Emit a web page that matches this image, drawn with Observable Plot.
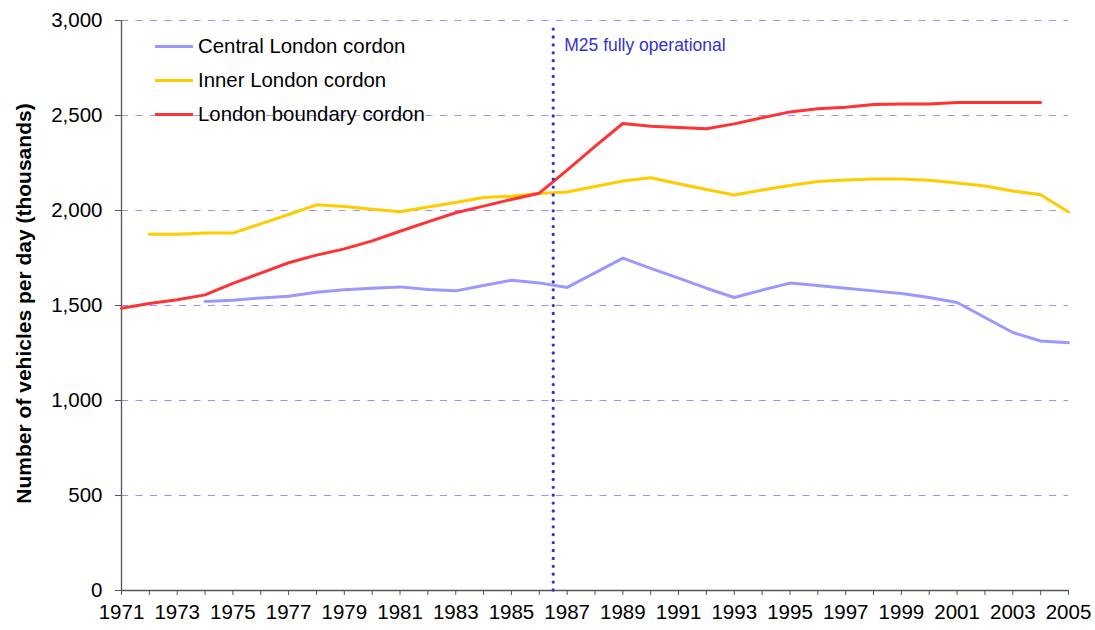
<!DOCTYPE html>
<html>
<head>
<meta charset="utf-8">
<script src="https://cdn.jsdelivr.net/npm/d3@7"></script>
<script src="https://cdn.jsdelivr.net/npm/@observablehq/plot@0.6"></script>
<style>
  html, body { margin: 0; padding: 0; background: #fff; }
  #wrap { position: relative; width: 1095px; height: 630px; font-family: "Liberation Sans", Arial, sans-serif; }
  #legend { position: absolute; left: 155px; top: 30px; }
  .row { display: flex; align-items: center; height: 33.8px; font-size: 20.4px; color: #000; }
  .sw { width: 38px; height: 3px; margin-right: 5px; }
</style>
</head>
<body>
<div id="wrap"></div>
<script>
const years = [1971,1972,1973,1974,1975,1976,1977,1978,1979,1980,1981,1982,1983,1984,1985,1986,1987,1988,1989,1990,1991,1992,1993,1994,1995,1996,1997,1998,1999,2000,2001,2002,2003,2004,2005];
const central = [null,null,null,1521,1528,1540,1549,1570,1583,1591,1598,1584,1577,1605,1633,1619,1595,1672,1749,1695,1644,1591,1542,1581,1618,1605,1591,1577,1563,1542,1516,1437,1358,1313,1304];
const inner = [null,1875,1875,1881,1881,1930,1979,2030,2021,2007,1993,2018,2042,2068,2075,2089,2097,2126,2155,2172,2141,2111,2082,2108,2132,2153,2160,2166,2166,2159,2145,2129,2103,2083,1992];
const boundary = [1486,1511,1530,1556,1616,1670,1725,1765,1798,1840,1891,1940,1988,2023,2058,2091,2213,2337,2458,2444,2437,2430,2456,2488,2519,2535,2544,2558,2561,2561,2568,2568,2568,2568,null];
const seriesNames = ["Central London cordon", "Inner London cordon", "London boundary cordon"];
const seriesColors = ["#9999ff", "#ffcc00", "#ff3333"];
const yTicks = [0, 500, 1000, 1500, 2000, 2500, 3000];
const gridTicks = [500, 1000, 1500, 2000, 2500, 3000];
const yTitle = "Number of vehicles per day (thousands)";
const m25Year = 1986.5;
const m25Top = 2970;
const m25Label = "M25 fully operational";

const seriesValues = [central, inner, boundary];
const rows = (vals) => years.map((year, i) => ({year, value: vals[i]}));

const chart = Plot.plot({
  width: 1095,
  height: 630,
  marginLeft: 121,
  marginRight: 27,
  marginTop: 20,
  marginBottom: 40,
  style: {fontFamily: '"Liberation Sans", Arial, sans-serif', fontSize: "20.5px", background: "#fff", color: "#000"},
  x: {type: "linear", domain: [1971, 2005]},
  y: {domain: [0, 3000]},
  marks: [
    Plot.ruleY(gridTicks, {stroke: "#a28cff", strokeWidth: 1, strokeDasharray: "7,7.5"}),
    Plot.ruleX([1971], {stroke: "#555", strokeWidth: 1.3}),
    Plot.ruleY([0], {stroke: "#555", strokeWidth: 1.3}),
    Plot.axisX({ticks: years, tickSize: 5, tickPadding: 9, stroke: "#555", fontSize: 20.5,
      tickFormat: d => ((d - 1971) % 2 === 0 ? String(d) : ""), label: null}),
    Plot.axisY({ticks: yTicks, tickSize: 6, tickPadding: 13, stroke: "#555", fontSize: 20.5,
      tickFormat: d3.format(","), label: null}),
    ...seriesValues.map((vals, i) => Plot.line(rows(vals), {
      x: "year", y: "value", stroke: seriesColors[i], strokeWidth: 3, curve: "linear"
    })),
    Plot.ruleX([m25Year], {y1: 0, y2: m25Top, stroke: "#3333cc", strokeWidth: 3.3,
      strokeDasharray: "0,7.9", strokeLinecap: "round"}),
    Plot.text([m25Label], {x: [m25Year], frameAnchor: "top", textAnchor: "start",
      lineAnchor: "middle", dx: 11, dy: 25, fontSize: 17.5, fill: "#3333cc"}),
    Plot.text([yTitle], {frameAnchor: "left", rotate: -90, textAnchor: "middle",
      lineAnchor: "middle", dx: -97, dy: -2, fontSize: 21, fontWeight: "bold", fill: "#000"})
  ]
});

const wrap = document.getElementById("wrap");
wrap.appendChild(chart);

const legend = document.createElement("div");
legend.id = "legend";
seriesNames.forEach((name, i) => {
  const row = document.createElement("div");
  row.className = "row";
  const sw = document.createElement("div");
  sw.className = "sw";
  sw.style.background = seriesColors[i];
  const label = document.createElement("span");
  label.textContent = name;
  row.appendChild(sw);
  row.appendChild(label);
  legend.appendChild(row);
});
wrap.appendChild(legend);
</script>
</body>
</html>
